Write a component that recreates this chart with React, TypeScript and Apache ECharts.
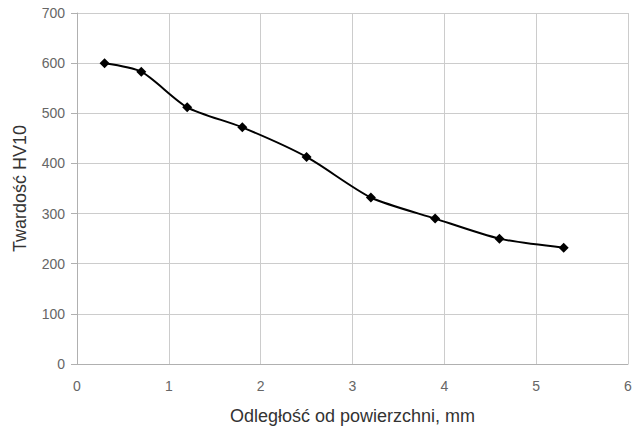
import React, { useEffect, useRef } from "react";
import * as echarts from "echarts";

const distances = [0.3, 0.7, 1.2, 1.8, 2.5, 3.2, 3.9, 4.6, 5.3];
const hardness = [600, 583, 512, 472, 413, 332, 290, 250, 232];
const xTitle = "Odległość od powierzchni, mm";
const yTitle = "Twardość HV10";

export default function App() {
  const ref = useRef<HTMLDivElement>(null);
  useEffect(() => {
    if (!ref.current) return;
    const chart = echarts.init(ref.current, null, { renderer: "svg" });
    const font = "'Liberation Sans', Arial, sans-serif";
    chart.setOption({
      animation: false,
      backgroundColor: "#ffffff",
      grid: { left: 77, right: 7, top: 13, bottom: 66, containLabel: false },
      xAxis: {
        type: "value",
        min: 0,
        max: 6,
        interval: 1,
        name: xTitle,
        nameLocation: "middle",
        nameGap: 43,
        nameTextStyle: { fontFamily: font, fontSize: 18, color: "#333" },
        axisLine: { show: true, lineStyle: { color: "#b0b0b0", width: 1 } },
        axisTick: { show: false },
        axisLabel: { fontFamily: font, fontSize: 14, color: "#666", margin: 15 },
        splitLine: { show: true, lineStyle: { color: "#cccccc", width: 1 } },
      },
      yAxis: {
        type: "value",
        min: 0,
        max: 700,
        interval: 100,
        name: yTitle,
        nameLocation: "middle",
        nameGap: 48,
        nameTextStyle: { fontFamily: font, fontSize: 18, color: "#333" },
        axisLine: { show: true, lineStyle: { color: "#b0b0b0", width: 1 } },
        axisTick: { show: true, length: 6, lineStyle: { color: "#b0b0b0" } },
        axisLabel: { fontFamily: font, fontSize: 14, color: "#666", margin: 12 },
        splitLine: { show: true, lineStyle: { color: "#cccccc", width: 1 } },
      },
      series: [
        {
          type: "line",
          data: distances.map((d, i) => [d, hardness[i]]),
          smooth: 0.25,
          symbol: "diamond",
          symbolSize: 10,
          lineStyle: { color: "#000", width: 2 },
          itemStyle: { color: "#000" },
        },
      ],
    });
    return () => chart.dispose();
  }, []);
  return (
    <div
      ref={ref}
      style={{ position: "absolute", left: 0, top: 0, width: 635, height: 430 }}
    />
  );
}
